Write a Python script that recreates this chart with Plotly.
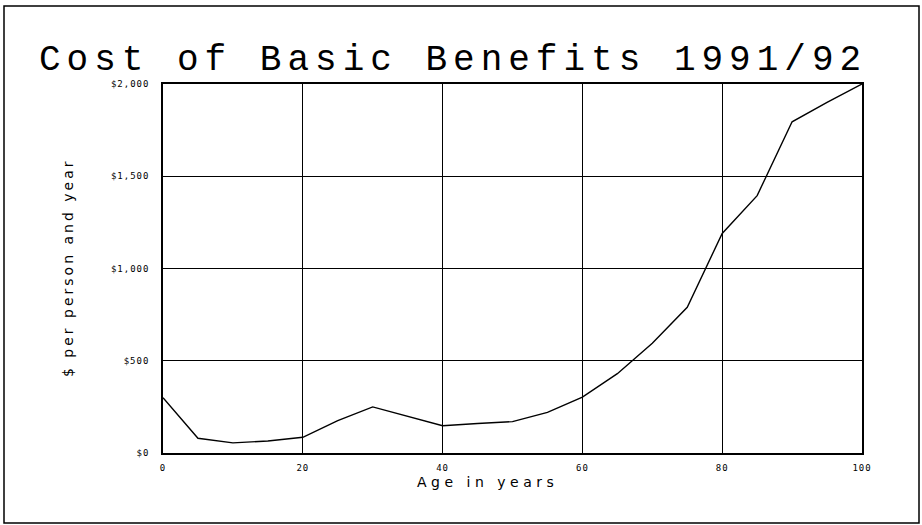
import plotly.graph_objects as go

ages = list(range(0, 101, 5))
costs = [300, 80, 55, 65, 85, 175, 250, 200, 148, 160, 170, 220, 303, 430, 595, 790, 1190, 1395, 1795, 1900, 2000]

y_tickvals = [0, 500, 1000, 1500, 2000]
y_ticktext = ["$0", "$500", "$1,000", "$1,500", "$2,000"]
x_tickvals = [0, 20, 40, 60, 80, 100]
x_ticktext = ["0", "20", "40", "60", "80", "100"]

title_text = "Cost of Basic Benefits 1991/92"
x_title = "Age in years"
y_title = "$ per person and year"

W, H = 922, 525
L, R, T, B = 163, 60, 84, 72
pw, ph = W - L - R, H - T - B

def px(xpix):
    return (xpix - L) / pw

def py(ypix):
    return (H - B - ypix) / ph

def spaced(s, sp):
    return '<span style="letter-spacing:%spx">%s</span>' % (sp, s)

fig = go.Figure()
fig.add_trace(go.Scatter(x=ages, y=costs, mode="lines",
                         line=dict(color="black", width=1.4), showlegend=False,
                         cliponaxis=False))

tickfont = dict(family="DejaVu Sans Mono", size=9, color="black")
fig.update_layout(
    width=W, height=H,
    margin=dict(l=L, r=R, t=T, b=B),
    paper_bgcolor="white", plot_bgcolor="white",
    xaxis=dict(range=[0, 100], tickvals=x_tickvals,
               ticktext=[spaced(t, 1) for t in x_ticktext],
               showgrid=True, gridcolor="black", gridwidth=1.4,
               showline=True, linecolor="black", linewidth=1.6, mirror=True,
               zeroline=False, ticks="", tickfont=tickfont, ticklabelstandoff=5),
    yaxis=dict(range=[0, 2000], tickvals=y_tickvals,
               ticktext=[spaced(t, 1) for t in y_ticktext],
               showgrid=True, gridcolor="black", gridwidth=1.4,
               showline=True, linecolor="black", linewidth=1.6, mirror=True,
               zeroline=False, ticks="", tickfont=tickfont, ticklabelstandoff=10),
    shapes=[dict(type="rect", xref="paper", yref="paper",
                 x0=px(4), x1=px(919), y0=py(523), y1=py(6),
                 line=dict(color="black", width=1.5), layer="below")],
    annotations=[
        dict(text=spaced(title_text, 6), xref="paper", yref="paper", x=px(453), y=py(60),
             showarrow=False, xanchor="center", yanchor="middle",
             font=dict(family="Liberation Mono", size=36, color="black")),
        dict(text=spaced(x_title, 4.5), xref="paper", yref="paper", x=px(487), y=py(482),
             showarrow=False, xanchor="center", yanchor="middle",
             font=dict(family="DejaVu Sans", size=14, color="black")),
        dict(text=spaced(y_title, 3), xref="paper", yref="paper", x=px(68), y=py(268),
             showarrow=False, xanchor="center", yanchor="middle", textangle=-90,
             font=dict(family="DejaVu Sans", size=14, color="black")),
    ],
)

fig.write_html("out.html", config={"displayModeBar": False},
               post_script="document.body.style.margin='0';")
